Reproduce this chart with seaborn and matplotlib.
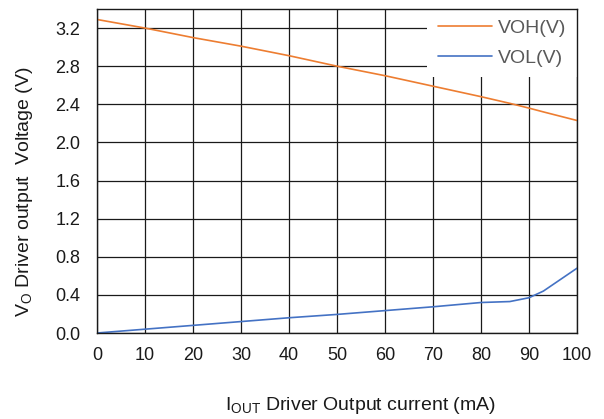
import matplotlib
matplotlib.use("Agg")
import matplotlib.pyplot as plt
import seaborn as sns
import pandas as pd

current_ma = [0, 10, 20, 30, 40, 50, 60, 70, 80, 86, 90, 93, 100]
voh_v = [3.29, 3.20, 3.10, 3.01, 2.91, 2.80, 2.70, 2.59, 2.48, 2.41, 2.36, 2.32, 2.23]
vol_v = [0.0, 0.04, 0.08, 0.12, 0.16, 0.195, 0.235, 0.275, 0.32, 0.33, 0.37, 0.44, 0.68]
series_names = ["VOH(V)", "VOL(V)"]
series_colors = ["#ED7D31", "#4472C4"]
x_ticks = list(range(0, 101, 10))
y_ticks = [0.0, 0.4, 0.8, 1.2, 1.6, 2.0, 2.4, 2.8, 3.2]

df = pd.concat([
    pd.DataFrame({"I": current_ma, "V": voh_v, "series": series_names[0]}),
    pd.DataFrame({"I": current_ma, "V": vol_v, "series": series_names[1]}),
])

sns.set_style("white")
plt.rcParams["font.family"] = ["Liberation Sans", "DejaVu Sans"]
plt.rcParams["mathtext.fontset"] = "custom"
plt.rcParams["mathtext.rm"] = "Liberation Sans"

fig = plt.figure(figsize=(6.04, 4.19), dpi=100)
ax = fig.add_axes([97/604, 1-333/419, 480/604, 324/419])

sns.lineplot(data=df, x="I", y="V", hue="series", palette=series_colors,
             hue_order=series_names, ax=ax, linewidth=1.2, legend=True)

ax.set_xlim(0, 100)
ax.set_ylim(0, 3.4)
ax.set_xticks(x_ticks)
ax.set_yticks(y_ticks)
ax.set_yticklabels([f"{v:.1f}" for v in y_ticks])
ax.grid(True, color="#1a1a1a", linewidth=0.9)
ax.set_axisbelow(True)
for s in ax.spines.values():
    s.set_color("#1a1a1a")
    s.set_linewidth(1.0)
    s.set_zorder(6)
ax.tick_params(axis="both", length=0, labelsize=13, colors="#1a1a1a")
ax.tick_params(axis="x", pad=10)
ax.tick_params(axis="y", pad=12)

ax.set_xlabel(r"I$_\mathregular{OUT}$ Driver Output current (mA)", fontsize=14, color="#1a1a1a")
ax.set_ylabel(r"V$_\mathregular{O}$ Driver output  Voltage (V)", fontsize=14, color="#1a1a1a")
ax.xaxis.set_label_coords(0.548, -0.19)
ax.yaxis.set_label_coords(-0.129, 0.435)

leg = ax.legend(loc="upper right", bbox_to_anchor=(1.0, 1.0), frameon=True, fontsize=14,
                handlelength=2.8, handletextpad=0.3, borderaxespad=0.0, borderpad=0.55,
                labelspacing=0.6, fancybox=False)
leg.get_frame().set_facecolor("white")
leg.get_frame().set_edgecolor("none")
leg.get_frame().set_alpha(1.0)
for t in leg.get_texts():
    t.set_color("#595959")

fig.savefig("out.png", dpi=100)
